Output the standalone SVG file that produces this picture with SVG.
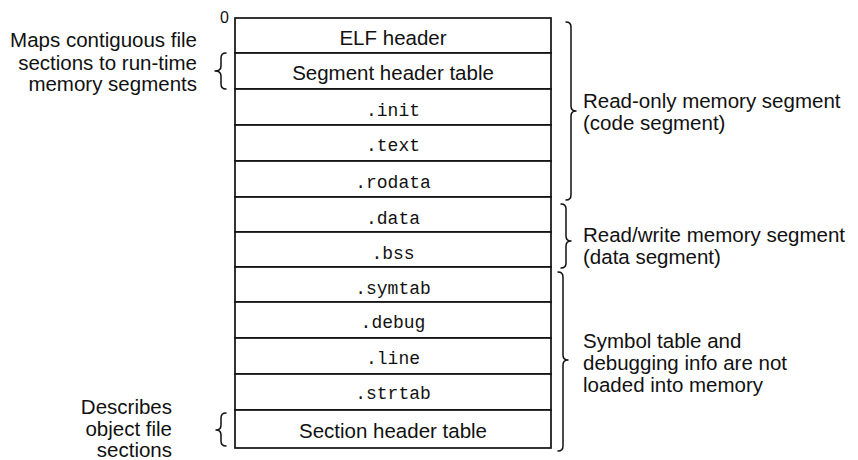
<svg xmlns="http://www.w3.org/2000/svg" width="858" height="460" viewBox="0 0 858 460">
<style>
.sans{font-family:"Liberation Sans",Arial,sans-serif;font-size:20.5px;fill:#111}
.mono{font-family:"Liberation Mono","Courier New",monospace;font-size:18px;fill:#111}
.mid{text-anchor:middle}
.end{text-anchor:end}
.cell{fill:#fff;stroke:#111;stroke-width:1.7}
.brace{fill:none;stroke:#111;stroke-width:1.5;stroke-linecap:round;stroke-linejoin:round}
</style>
<rect width="858" height="460" fill="#fff"/>
<text class="sans" x="220" y="23" style="font-size:16px">0</text>
<g id="elf-header"><rect class="cell" x="235" y="18" width="316" height="35"/><text class="sans mid" x="393" y="45">ELF header</text></g>
<g id="segment-header-table"><rect class="cell" x="235" y="53" width="316" height="36"/><text class="sans mid" x="393" y="80">Segment header table</text></g>
<g id="init"><rect class="cell" x="235" y="89" width="316" height="36"/><text class="mono mid" x="393" y="116">.init</text></g>
<g id="text"><rect class="cell" x="235" y="125" width="316" height="36"/><text class="mono mid" x="393" y="151">.text</text></g>
<g id="rodata"><rect class="cell" x="235" y="161" width="316" height="36"/><text class="mono mid" x="393" y="188">.rodata</text></g>
<g id="data"><rect class="cell" x="235" y="197" width="316" height="35"/><text class="mono mid" x="393" y="224">.data</text></g>
<g id="bss"><rect class="cell" x="235" y="232" width="316" height="35"/><text class="mono mid" x="393" y="259">.bss</text></g>
<g id="symtab"><rect class="cell" x="235" y="267" width="316" height="35"/><text class="mono mid" x="393" y="294">.symtab</text></g>
<g id="debug"><rect class="cell" x="235" y="302" width="316" height="36"/><text class="mono mid" x="393" y="328">.debug</text></g>
<g id="line"><rect class="cell" x="235" y="338" width="316" height="36"/><text class="mono mid" x="393" y="364">.line</text></g>
<g id="strtab"><rect class="cell" x="235" y="374" width="316" height="36"/><text class="mono mid" x="393" y="399">.strtab</text></g>
<g id="section-header-table"><rect class="cell" x="235" y="410" width="316" height="38"/><text class="sans mid" x="393" y="438">Section header table</text></g>
<g id="connectors">
<path class="brace" d="M566,22 Q571,22 571,27 L571,106 Q571,111 576,111 Q571,111 571,116 L571,195 Q571,200 566,200"/>
<path class="brace" d="M561,204 Q566,204 566,209 L566,236 Q566,241 571,241 Q566,241 566,246 L566,263 Q566,268 561,268"/>
<path class="brace" d="M558,272 Q563,272 563,277 L563,355 Q563,360 568,360 Q563,360 563,365 L563,446 Q563,451 558,451"/>
<path class="brace" d="M226,53 Q221,53 221,58 L221,66 Q221,71 215,71 Q221,71 221,76 L221,84 Q221,89 226,89"/>
<path class="brace" d="M226,413 Q221,413 221,418 L221,425 Q221,430 216,430 Q221,430 221,435 L221,441 Q221,446 226,446"/>
</g>
<g id="label-maps"><text class="sans end" x="197" y="47">Maps contiguous file</text><text class="sans end" x="197" y="70">sections to run-time</text><text class="sans end" x="197" y="91">memory segments</text></g>
<g id="label-describes"><text class="sans end" x="172" y="414">Describes</text><text class="sans end" x="172" y="436">object file</text><text class="sans end" x="172" y="457">sections</text></g>
<g id="label-readonly"><text class="sans" x="583" y="108">Read-only memory segment</text><text class="sans" x="583" y="130">(code segment)</text></g>
<g id="label-readwrite"><text class="sans" x="583" y="242">Read/write memory segment</text><text class="sans" x="583" y="264">(data segment)</text></g>
<g id="label-symbol"><text class="sans" x="583" y="348">Symbol table and</text><text class="sans" x="583" y="370">debugging info are not</text><text class="sans" x="583" y="392">loaded into memory</text></g>
</svg>
